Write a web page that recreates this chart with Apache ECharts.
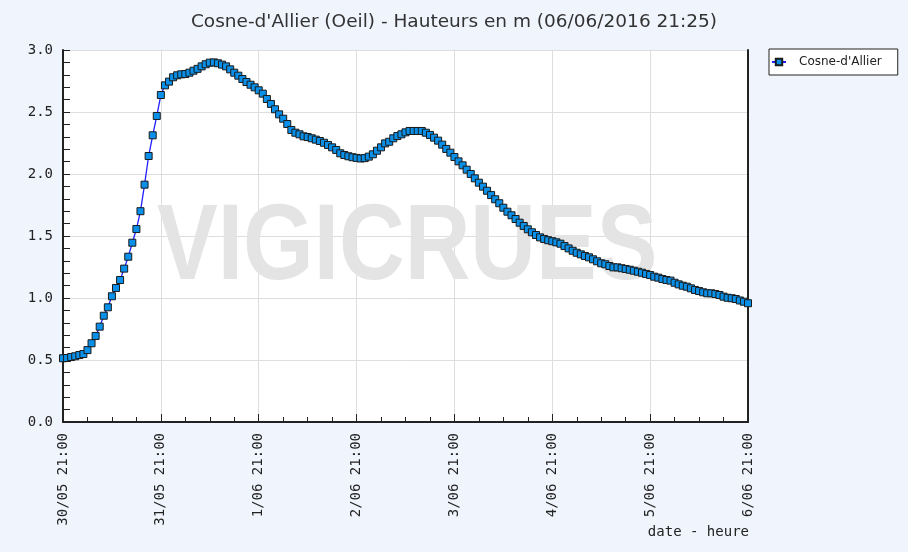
<!DOCTYPE html>
<html>
<head>
<meta charset="utf-8">
<script src="https://cdn.jsdelivr.net/npm/echarts@6/dist/echarts.min.js"></script>
<style>
  html, body { margin: 0; padding: 0; background: #f0f4fc; }
  #chart { width: 908px; height: 552px; }
</style>
</head>
<body>
<div id="chart"></div>
<script>
// hauteurs horaires (m) du 30/05 21:00 au 6/06 21:00
var heights = [
  0.514, 0.516, 0.524, 0.530, 0.540, 0.548, 0.580, 0.635, 0.694, 0.769,
  0.857, 0.925, 1.014, 1.081, 1.145, 1.237, 1.333, 1.446, 1.556, 1.700,
  1.914, 2.145, 2.312, 2.468, 2.637, 2.715, 2.745, 2.780, 2.796, 2.804,
  2.806, 2.817, 2.833, 2.848, 2.868, 2.885, 2.898, 2.900, 2.893, 2.882,
  2.868, 2.844, 2.817, 2.793, 2.766, 2.742, 2.720, 2.699, 2.675, 2.648,
  2.605, 2.565, 2.522, 2.481, 2.446, 2.403, 2.355, 2.333, 2.320, 2.304,
  2.298, 2.288, 2.277, 2.266, 2.252, 2.234, 2.215, 2.194, 2.167, 2.153,
  2.143, 2.135, 2.130, 2.125, 2.128, 2.140, 2.159, 2.188, 2.215, 2.247,
  2.260, 2.288, 2.306, 2.320, 2.336, 2.347, 2.347, 2.347, 2.347, 2.333,
  2.315, 2.293, 2.269, 2.237, 2.202, 2.172, 2.137, 2.102, 2.070, 2.035,
  2.000, 1.965, 1.930, 1.898, 1.865, 1.830, 1.796, 1.764, 1.728, 1.696,
  1.667, 1.637, 1.607, 1.581, 1.554, 1.530, 1.508, 1.489, 1.476, 1.466,
  1.458, 1.449, 1.438, 1.419, 1.400, 1.381, 1.365, 1.352, 1.339, 1.328,
  1.312, 1.296, 1.280, 1.272, 1.258, 1.247, 1.247, 1.240, 1.234, 1.228,
  1.220, 1.212, 1.204, 1.194, 1.185, 1.172, 1.164, 1.153, 1.145, 1.140,
  1.123, 1.110, 1.099, 1.091, 1.078, 1.065, 1.056, 1.046, 1.038, 1.038,
  1.032, 1.024, 1.011, 1.002, 0.998, 0.992, 0.980, 0.970, 0.958
];
var dayLabels = ['30/05 21:00', '31/05 21:00', '1/06 21:00', '2/06 21:00',
                 '3/06 21:00', '4/06 21:00', '5/06 21:00', '6/06 21:00'];

var myChart = echarts.init(document.getElementById('chart'));
var mono = 'DejaVu Sans Mono';

var option = {
    backgroundColor: '#f0f4fc',
    animation: false,
    title: {
        text: "Cosne-d'Allier (Oeil) - Hauteurs en m (06/06/2016 21:25)",
        left: 'center',
        top: 8,
        textStyle: { fontFamily: 'DejaVu Sans', fontSize: 18.5, fontWeight: 'normal', color: '#333' }
    },
    legend: {
        left: 769,
        top: 49,
        padding: [7, 16, 7, 2],
        backgroundColor: '#fff',
        borderColor: '#222',
        borderWidth: 1,
        borderRadius: 0,
        itemWidth: 14,
        itemHeight: 8,
        textStyle: { fontFamily: 'DejaVu Sans', fontSize: 12, color: '#222', padding: [0, 0, 0, 8] },
        data: ["Cosne-d'Allier"]
    },
    graphic: [
        {
            type: 'text',
            left: 157,
            top: 196,
            z: 1,
            scaleX: 0.85,
            style: { text: 'VIGICRUES', fill: '#e4e4e4', fontSize: 107, fontWeight: 'bold', fontFamily: 'Liberation Sans' }
        },
        {
            type: 'text',
            right: 159,
            top: 525,
            style: { text: 'date - heure', fill: '#222', fontSize: 14, fontFamily: mono }
        }
    ],
    grid: {
        left: 63, right: 160, top: 50, bottom: 130,
        show: true, backgroundColor: '#fff', borderWidth: 0
    },
    xAxis: {
        type: 'value',
        min: 0, max: 168, interval: 24,
        axisLine: { lineStyle: { color: '#222', width: 2 } },
        axisTick: { inside: true, length: 8, lineStyle: { color: '#222' } },
        minorTick: { show: true, splitNumber: 4, length: 5, lineStyle: { color: '#222' } },
        splitLine: { show: true, lineStyle: { color: '#dedede' } },
        axisLabel: {
            rotate: 90, margin: 11, fontFamily: mono, fontSize: 14, color: '#222',
            formatter: function (v) { return dayLabels[v / 24]; }
        }
    },
    yAxis: [
        {
            type: 'value',
            min: 0, max: 3, interval: 0.5,
            axisLine: { show: true, lineStyle: { color: '#222', width: 2 } },
            axisTick: { show: true, inside: true, length: 7, lineStyle: { color: '#222' } },
            minorTick: { show: true, splitNumber: 5, length: 7, lineStyle: { color: '#222' } },
            splitLine: { show: true, lineStyle: { color: '#dedede' } },
            axisLabel: {
                margin: 10, fontFamily: mono, fontSize: 14, color: '#222',
                formatter: function (v) { return v.toFixed(1); }
            }
        },
        {
            type: 'value',
            position: 'right',
            min: 0, max: 3,
            axisLine: { show: true, lineStyle: { color: '#222', width: 2 } },
            axisTick: { show: false },
            axisLabel: { show: false },
            splitLine: { show: false }
        }
    ],
    series: [{
        name: "Cosne-d'Allier",
        type: 'line',
        data: heights.map(function (v, i) { return [i, v]; }),
        symbol: 'rect',
        symbolSize: 7,
        lineStyle: { color: '#2020ff', width: 1.3 },
        itemStyle: { color: '#0a90e8', borderColor: '#1a1a1a', borderWidth: 1 },
        z: 3
    }]
};
myChart.setOption(option);
</script>
</body>
</html>
